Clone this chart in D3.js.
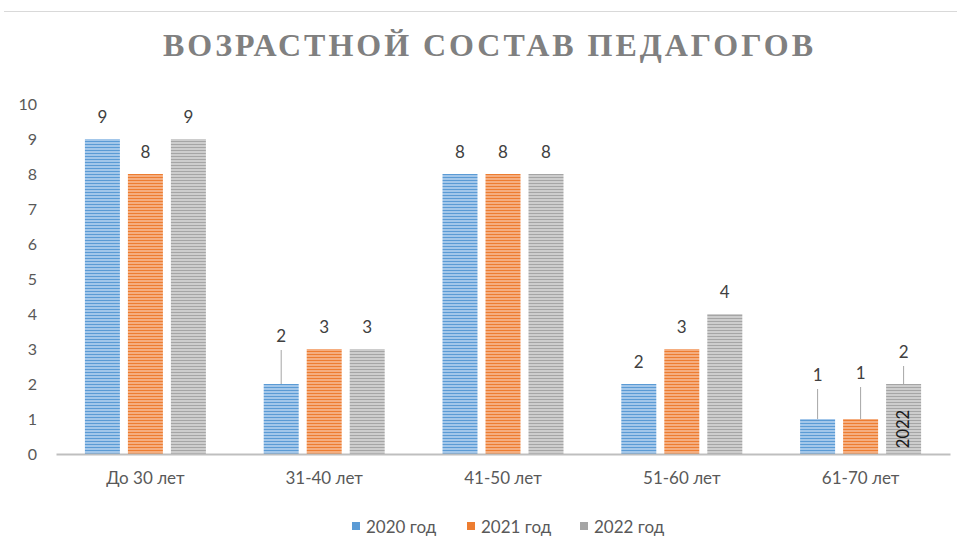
<!DOCTYPE html>
<html>
<head>
<meta charset="utf-8">
<script src="https://cdn.jsdelivr.net/npm/d3@7"></script>
<style>
  body { margin: 0; background: #fff; }
  svg { display: block; font-family: Lato, "Liberation Sans", sans-serif; }
</style>
</head>
<body>
<div id="chart"></div>
<script>
var svgWidth = 957;
var svgHeight = 538;

// chart data
var categories = ["До 30 лет", "31-40 лет", "41-50 лет", "51-60 лет", "61-70 лет"];
var seriesNames = ["2020 год", "2021 год", "2022 год"];
var values2020 = [9, 2, 8, 2, 1];
var values2021 = [8, 3, 8, 3, 1];
var values2022 = [9, 3, 8, 4, 2];
var yTicks = [0, 1, 2, 3, 4, 5, 6, 7, 8, 9, 10];

var allValues = [values2020, values2021, values2022];

// colours for the striped fills
var colors = [
  { dark: "#5b9bd5", light: "#a3c7ea", solid: "#5b9bd5" },
  { dark: "#ed7d31", light: "#f5ae80", solid: "#ed7d31" },
  { dark: "#a5a5a5", light: "#cdcdcd", solid: "#a5a5a5" }
];

// labels that were dragged up in the original (series-category -> lift px)
var labelLift = { "0-1": 48, "0-4": 44, "1-4": 46, "2-4": 32 };

var svg = d3.select("#chart")
  .append("svg")
  .attr("width", svgWidth)
  .attr("height", svgHeight);

// striped patterns
var defs = svg.append("defs");
colors.forEach(function(c, i) {
  var p = defs.append("pattern")
    .attr("id", "stripe" + i)
    .attr("patternUnits", "userSpaceOnUse")
    .attr("width", 6)
    .attr("height", 3);
  p.append("rect").attr("width", 6).attr("height", 3).attr("fill", c.light);
  p.append("rect").attr("width", 6).attr("height", 1).attr("fill", c.dark);
});

// top border line
svg.append("line")
  .attr("x1", 4).attr("x2", svgWidth)
  .attr("y1", 11.5).attr("y2", 11.5)
  .attr("stroke", "#d9d9d9")
  .attr("stroke-width", 1);

// title
svg.append("text")
  .attr("x", 488)
  .attr("y", 56)
  .attr("text-anchor", "middle")
  .attr("font-family", "'Liberation Serif', 'DejaVu Serif', serif")
  .attr("font-weight", "bold")
  .attr("font-size", 32)
  .attr("fill", "#808080")
  .attr("textLength", 650)
  .attr("lengthAdjust", "spacing")
  .text("ВОЗРАСТНОЙ СОСТАВ ПЕДАГОГОВ");

// scales
var x0 = d3.scaleBand()
  .domain(categories)
  .range([56, 950])
  .paddingInner(0)
  .paddingOuter(0);

var step = x0.bandwidth();
var x1 = d3.scaleBand()
  .domain(seriesNames)
  .range([step / 2 - 60.5, step / 2 + 60.5])
  .paddingInner(8 / 43)
  .paddingOuter(0);

var yScale = d3.scaleLinear()
  .domain([0, 10])
  .range([454, 104]);

// y tick labels (no axis line in original)
var leftAxis = d3.axisLeft(yScale).tickValues(yTicks).tickSize(0).tickPadding(0);
var yAxis = svg.append("g")
  .attr("transform", "translate(37,0)")
  .call(leftAxis);
yAxis.select(".domain").remove();
yAxis.selectAll("text")
  .attr("font-family", "Lato, 'Liberation Sans', sans-serif")
  .attr("font-size", 16)
  .attr("fill", "#595959");

// bars
var groups = svg.selectAll(".cat")
  .data(categories)
  .enter()
  .append("g")
  .attr("class", "cat")
  .attr("transform", d => `translate(${x0(d)},0)`);

seriesNames.forEach(function(s, si) {
  groups.append("rect")
    .attr("x", x1(s))
    .attr("width", x1.bandwidth())
    .attr("y", (d, ci) => yScale(allValues[si][ci]))
    .attr("height", (d, ci) => yScale(0) - yScale(allValues[si][ci]))
    .attr("fill", "url(#stripe" + si + ")");
});

// x axis line
var bottomAxis = d3.axisBottom(x0).tickSize(0).tickPadding(0);
var xAxis = svg.append("g")
  .attr("transform", "translate(0,454)")
  .call(bottomAxis);
xAxis.select(".domain")
  .attr("stroke", "#bfbfbf")
  .attr("stroke-width", 2);
xAxis.selectAll("text")
  .attr("y", 30)
  .attr("dy", 0)
  .attr("font-family", "Lato, 'Liberation Sans', sans-serif")
  .attr("font-size", 17)
  .attr("fill", "#595959");

// value labels with leader lines
seriesNames.forEach(function(s, si) {
  groups.each(function(d, ci) {
    var g = d3.select(this);
    var v = allValues[si][ci];
    var cx = x1(s) + x1.bandwidth() / 2;
    var top = yScale(v);
    var key = si + "-" + ci;
    var lift = labelLift[key] || 22;
    var ly = top - lift;
    if (labelLift[key]) {
      g.append("line")
        .attr("x1", cx).attr("x2", cx)
        .attr("y1", ly + 14).attr("y2", top)
        .attr("stroke", "#a6a6a6")
        .attr("stroke-width", 1);
    }
    g.append("text")
      .attr("x", cx)
      .attr("y", ly)
      .attr("dy", "0.35em")
      .attr("text-anchor", "middle")
      .attr("font-size", 17)
      .attr("fill", "#404040")
      .text(v);
  });
});

// stray rotated label inside the last grey bar
var lastCat = categories[categories.length - 1];
var rx = x0(lastCat) + x1(seriesNames[2]) + x1.bandwidth() / 2;
var ry = (yScale(0) + yScale(values2022[values2022.length - 1])) / 2 + 10;
svg.append("text")
  .attr("transform", `translate(${rx + 5.5},${ry}) rotate(-90)`)
  .attr("text-anchor", "middle")
  .attr("font-size", 16.5)
  .attr("fill", "#1a1a1a")
  .text("2022");

// legend
var legend = svg.append("g").attr("transform", "translate(0,527)");
var legendX = [352, 467, 580];
seriesNames.forEach(function(s, i) {
  legend.append("rect")
    .attr("x", legendX[i])
    .attr("y", -5)
    .attr("width", 8)
    .attr("height", 8)
    .attr("fill", colors[i].solid);
  legend.append("text")
    .attr("x", legendX[i] + 14)
    .attr("y", 0)
    .attr("dy", "0.35em")
    .attr("font-size", 17)
    .attr("fill", "#595959")
    .text(s);
});
</script>
</body>
</html>
